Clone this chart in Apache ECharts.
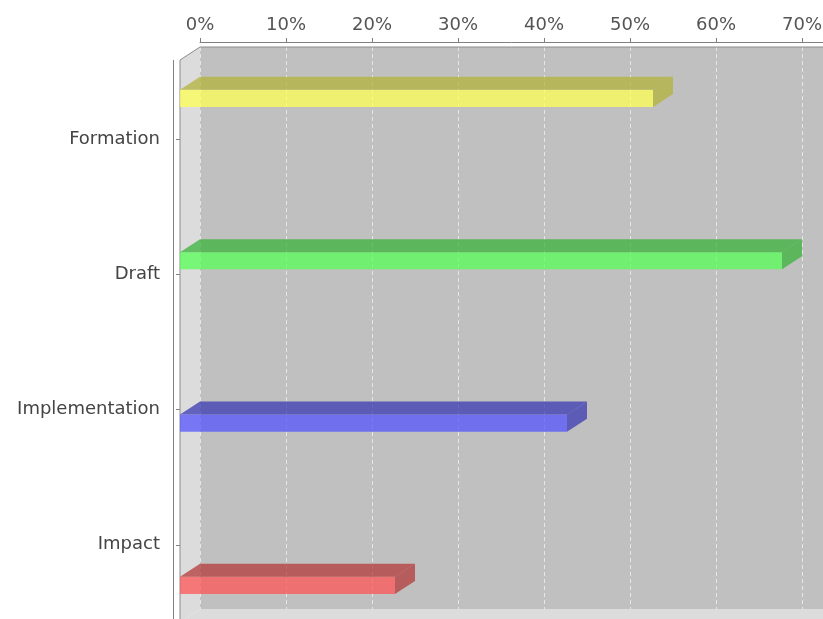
<!DOCTYPE html>
<html>
<head>
<meta charset="utf-8">
<script src="https://cdn.jsdelivr.net/npm/echarts@6/dist/echarts.min.js"></script>
<style>
  html, body { margin: 0; padding: 0; background: #fff; }
  #chart { width: 823px; height: 619px; }
</style>
</head>
<body>
<div id="chart"></div>
<script>
// one bar per stage, each stage drawn as its own series slot (like a grouped 3D bar chart)
const stages = ['Formation', 'Draft', 'Implementation', 'Impact'];
const percents = [55, 70, 45, 25];
const colors = ['#FFFF55', '#55FF55', '#5555FF', '#FF5555'];
const tickLabels = ['0%', '10%', '20%', '30%', '40%', '50%', '60%', '70%', '80%', '90%', '100%'];

const DX = 20, DY = 13;   // 3d depth
const ALPHA = 0.75;

function rgba(hex, k) {
  const r = Math.round(parseInt(hex.slice(1, 3), 16) * k);
  const g = Math.round(parseInt(hex.slice(3, 5), 16) * k);
  const b = Math.round(parseInt(hex.slice(5, 7), 16) * k);
  return 'rgba(' + r + ',' + g + ',' + b + ',' + ALPHA + ')';
}

const chart = echarts.init(document.getElementById('chart'));

const barData = percents.map((v, i) => [v, i, i]);

function renderBar(params, api) {
  const v = api.value(0), cat = api.value(1), s = api.value(2);
  const band = api.size([0, 1])[1];
  const p0 = api.coord([0, cat]);
  const p1 = api.coord([v, cat]);
  const cy = p0[1] + (s - 1.5) * band * 0.2;
  const h = band * 0.127;
  const x0 = p0[0], x1 = p1[0];
  const top = cy - h / 2, bot = cy + h / 2;
  const c = colors[s];
  return {
    type: 'group',
    children: [
      { type: 'rect', shape: { x: x0, y: top, width: x1 - x0, height: h },
        style: { fill: rgba(c, 1) } },
      { type: 'polygon', shape: { points: [[x0, top], [x0 + DX, top - DY], [x1 + DX, top - DY], [x1, top]] },
        style: { fill: rgba(c, 0.7) } },
      { type: 'polygon', shape: { points: [[x1, top], [x1 + DX, top - DY], [x1 + DX, bot - DY], [x1, bot]] },
        style: { fill: rgba(c, 0.7) } }
    ]
  };
}

const option = {
  backgroundColor: '#ffffff',
  animation: false,
  textStyle: { fontFamily: 'DejaVu Sans' },
  grid: [
    // back plane
    { left: 200, top: 47, width: 860, height: 562, show: true, backgroundColor: '#c0c0c0', borderWidth: 0,
      outerBoundsMode: 'none', z: 0 },
    // front plane (bars)
    { left: 180, top: 71.4, width: 860, height: 541, show: false, outerBoundsMode: 'none' }
  ],
  xAxis: [
    {
      gridIndex: 0, type: 'value', position: 'top', min: 0, max: 100, interval: 10, offset: 5,
      axisLine: { show: true, lineStyle: { color: '#808080', width: 1 } },
      axisTick: { show: true, length: 4, lineStyle: { color: '#808080' } },
      axisLabel: { color: '#555', fontSize: 18, margin: 8,
        formatter: (val) => tickLabels[Math.round(val / 10)] },
      splitLine: { show: true, lineStyle: { color: 'rgba(255,255,255,0.6)', type: [4, 3], width: 1 } }
    },
    { gridIndex: 1, type: 'value', min: 0, max: 100, show: false }
  ],
  yAxis: [
    { gridIndex: 0, type: 'category', data: stages, show: false },
    {
      gridIndex: 1, type: 'category', data: stages, inverse: true, offset: 7,
      axisLine: { show: false },
      axisTick: { show: true, alignWithLabel: true, length: 4, lineStyle: { color: '#808080' } },
      axisLabel: { color: '#444', fontSize: 18, margin: 13 },
      splitLine: { show: false }
    }
  ],
  graphic: [
    // left wall
    { type: 'polygon', z: 1, shape: { points: [[180, 60], [200, 47], [200, 609], [180, 622]] },
      style: { fill: '#dcdcdc', stroke: null } },
    // floor
    { type: 'polygon', z: 1, shape: { points: [[200, 609], [1060, 609], [1040, 622], [180, 622]] },
      style: { fill: '#dcdcdc', stroke: null } },
    // outline
    { type: 'polyline', z: 2, shape: { points: [[180, 622], [180, 60], [200, 47], [823, 47]] },
      style: { stroke: '#8c8c8c', lineWidth: 1, fill: null } },
    // category axis line
    { type: 'line', z: 2, shape: { x1: 173.5, y1: 60, x2: 173.5, y2: 622 },
      style: { stroke: '#808080', lineWidth: 1 } }
  ],
  series: [{
    type: 'custom',
    xAxisIndex: 1,
    yAxisIndex: 1,
    renderItem: renderBar,
    encode: { x: 0, y: 1 },
    data: barData,
    clip: false,
    z: 5
  }]
};

chart.setOption(option);
</script>
</body>
</html>
